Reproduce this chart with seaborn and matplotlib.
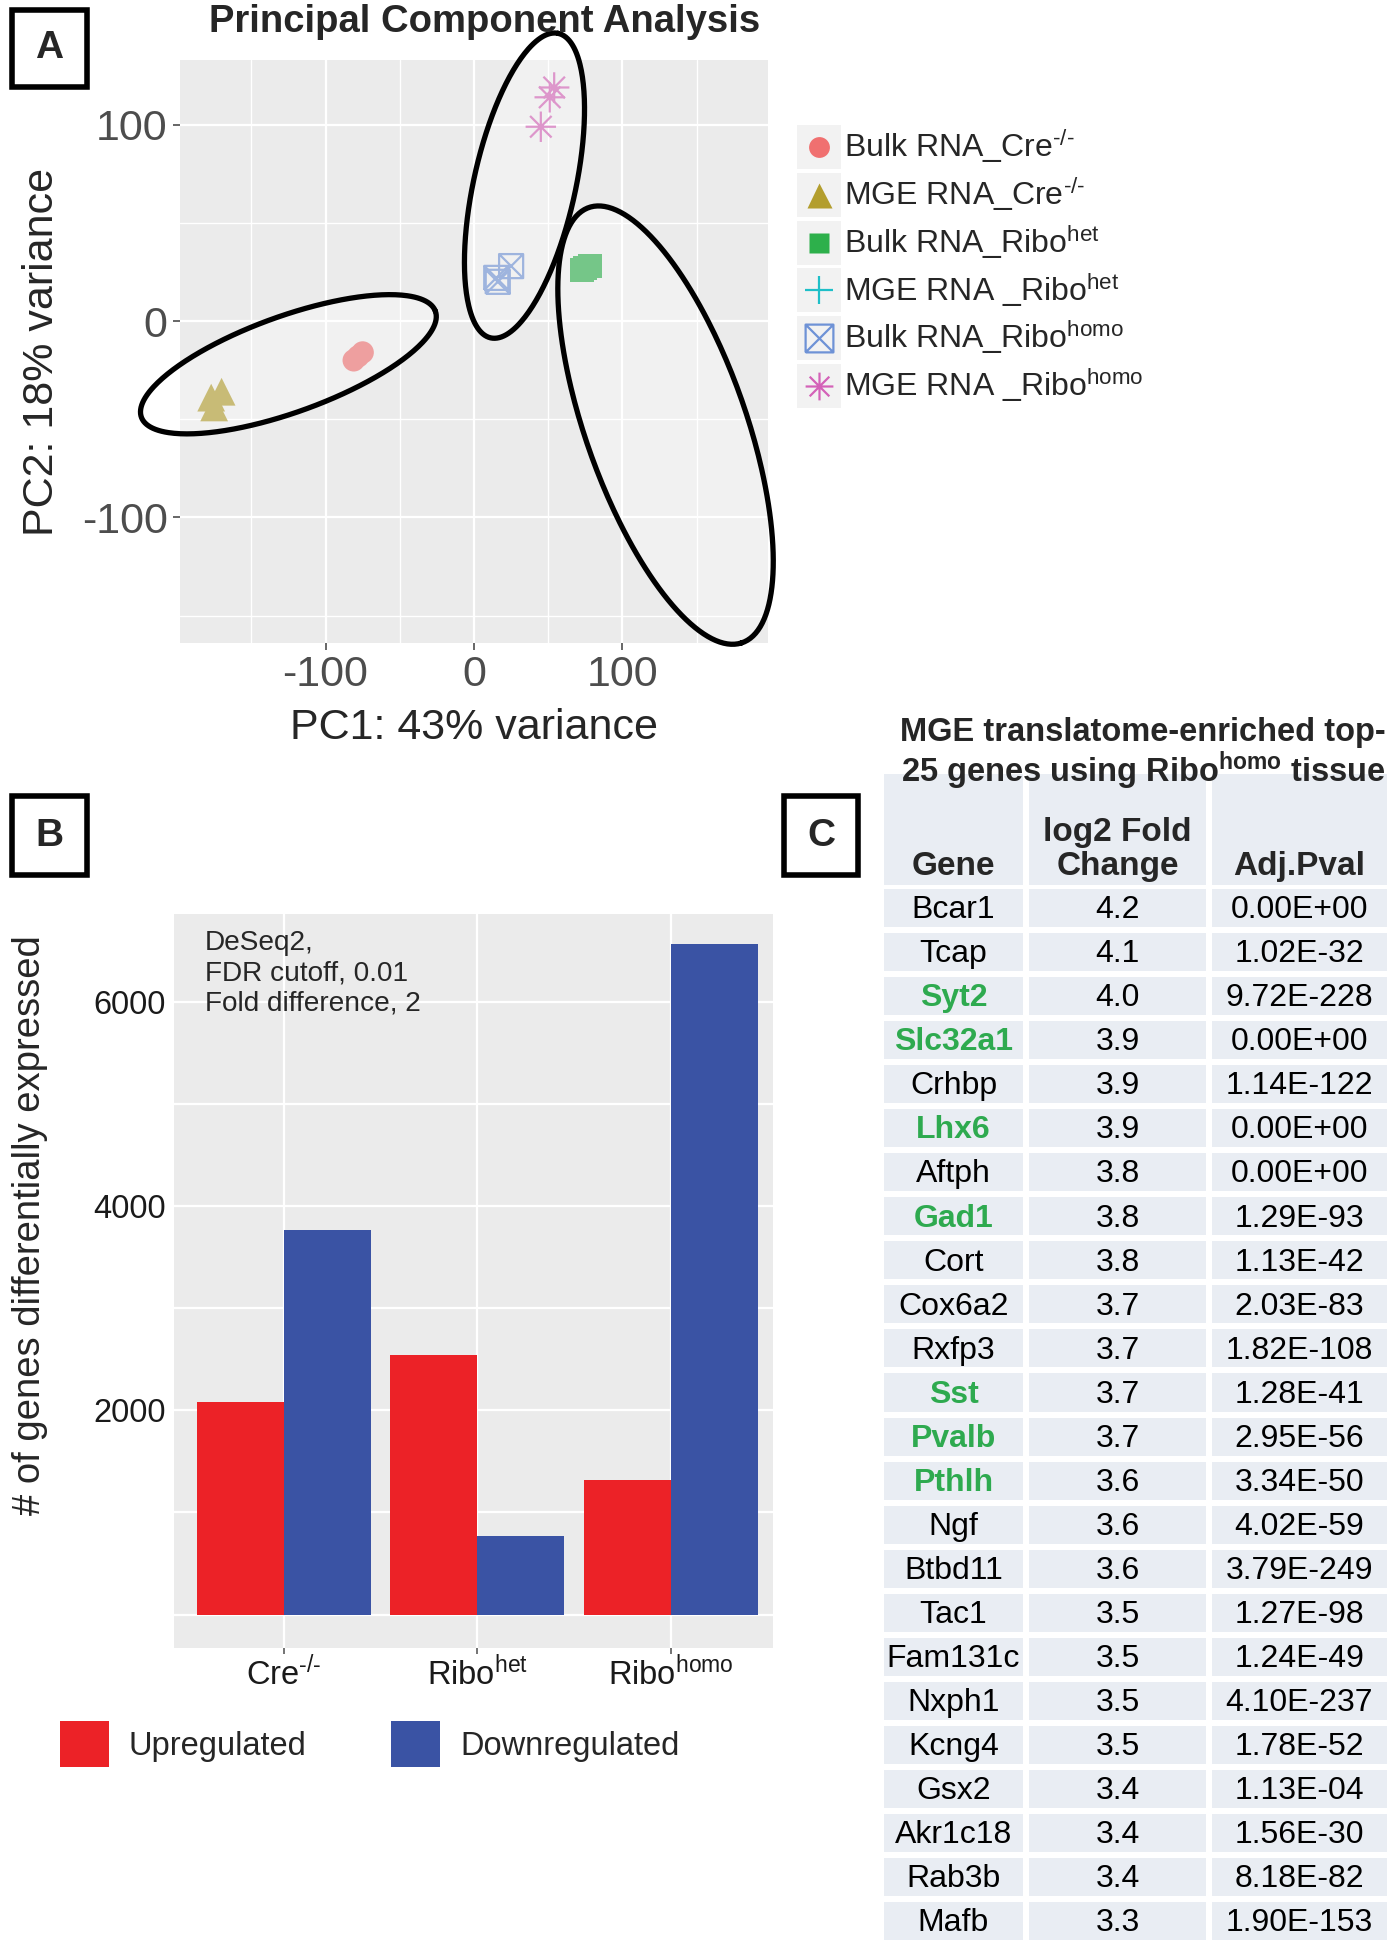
import numpy as np
import pandas as pd
import matplotlib
matplotlib.use("Agg")
import matplotlib.pyplot as plt
import seaborn as sns
from matplotlib import font_manager as fm
from matplotlib.path import Path
from matplotlib.lines import Line2D
from matplotlib.patches import Rectangle, Patch
from matplotlib.legend_handler import HandlerBase
from matplotlib.ticker import FixedLocator, MultipleLocator
from matplotlib.colors import ListedColormap, to_rgb

# ---------------- data ----------------
# panel A: PCA, three replicates per group
pca_group = (["Bulk RNA_Cre"] * 3 + ["MGE RNA_Cre"] * 3 + ["Bulk RNA_Ribo het"] * 3
             + ["MGE RNA_Ribo het"] * 3 + ["Bulk RNA_Ribo homo"] * 3 + ["MGE RNA_Ribo homo"] * 3)
pc1 = [-78, -81, -75, -177, -170, -175, 75, 78, 73, 157, 175, 180, 15, 25, 16, 45, 51, 54]
pc2 = [-18, -20, -16, -39, -36, -44, 27, 28, 26, -105, -127, -151, 22, 28, 20, 99, 114, 119]
group_order = ["Bulk RNA_Cre", "MGE RNA_Cre", "Bulk RNA_Ribo het",
               "MGE RNA_Ribo het", "Bulk RNA_Ribo homo", "MGE RNA_Ribo homo"]
group_labels = [r"Bulk RNA_Cre$^{\text{-/-}}$", r"MGE RNA_Cre$^{\text{-/-}}$",
                r"Bulk RNA_Ribo$^{het}$", r"MGE RNA _Ribo$^{het}$",
                r"Bulk RNA_Ribo$^{homo}$", r"MGE RNA _Ribo$^{homo}$"]

# cluster ellipses (centre, two semi-axis vectors) in PC units
ell_center = [(-125, -22), (34, 69), (129, -53)]
ell_u = [(99, 27), (22.5, 77.6), (51, -111)]
ell_v = [(11, -23), (33.6, -5), (51.6, 12.1)]

# panel B: DE gene counts
conditions = ["Cre", "Ribo het", "Ribo homo"]
cond_labels = [r"Cre$^{\text{-/-}}$", r"Ribo$^{het}$", r"Ribo$^{homo}$"]
upregulated = [2085, 2545, 1320]
downregulated = [3770, 765, 6570]

# panel C: top genes table
genes = ["Bcar1", "Tcap", "Syt2", "Slc32a1", "Crhbp", "Lhx6", "Aftph", "Gad1", "Cort",
         "Cox6a2", "Rxfp3", "Sst", "Pvalb", "Pthlh", "Ngf", "Btbd11", "Tac1", "Fam131c",
         "Nxph1", "Kcng4", "Gsx2", "Akr1c18", "Rab3b", "Mafb"]
log2fc = ["4.2", "4.1", "4.0", "3.9", "3.9", "3.9", "3.8", "3.8", "3.8", "3.7", "3.7", "3.7",
          "3.7", "3.6", "3.6", "3.6", "3.5", "3.5", "3.5", "3.5", "3.4", "3.4", "3.4", "3.3"]
adj_pval = ["0.00E+00", "1.02E-32", "9.72E-228", "0.00E+00", "1.14E-122", "0.00E+00",
            "0.00E+00", "1.29E-93", "1.13E-42", "2.03E-83", "1.82E-108", "1.28E-41",
            "2.95E-56", "3.34E-50", "4.02E-59", "3.79E-249", "1.27E-98", "1.24E-49",
            "4.10E-237", "1.78E-52", "1.13E-04", "1.56E-30", "8.18E-82", "1.90E-153"]
highlight = ["Syt2", "Slc32a1", "Lhx6", "Gad1", "Sst", "Pvalb", "Pthlh"]

# ---------------- style ----------------
sns.set_theme(style="darkgrid", rc={"axes.facecolor": "#EBEBEB", "grid.color": "white"})
plt.rcParams["font.family"] = ["Liberation Sans", "DejaVu Sans"]
plt.rcParams["mathtext.fontset"] = "custom"
plt.rcParams["mathtext.rm"] = "Liberation Sans"
plt.rcParams["mathtext.it"] = "Liberation Sans:italic"
plt.rcParams["mathtext.bf"] = "Liberation Sans:bold"
plt.rcParams["mathtext.default"] = "regular"
plt.rcParams["axes.unicode_minus"] = False

installed = {f.name for f in fm.fontManager.ttflist}
has_narrow = "Liberation Sans Narrow" in installed
NARROW = ["Liberation Sans Narrow", "Liberation Sans"] if has_narrow else ["Liberation Sans"]
nscale = 1.0 if has_narrow else 0.84

W, H = 1397, 1950
fig = plt.figure(figsize=(W / 100, H / 100), dpi=100)


def rect(l, t, r, b):
    return [l / W, 1 - b / H, (r - l) / W, (b - t) / H]


def panel_box(l, t, r, b, letter):
    fig.add_artist(Rectangle((l / W, 1 - b / H), (r - l) / W, (b - t) / H,
                             transform=fig.transFigure, fill=False, lw=4, ec="black"))
    fig.text((l + r) / 2 / W, 1 - (t + b) / 2 / H, letter, ha="center", va="center",
             fontsize=28, fontweight="bold")


# ---------------- panel A ----------------
axa = fig.add_axes(rect(180, 60, 768, 643))
pca = pd.DataFrame({"PC1": pc1, "PC2": pc2, "group": pca_group})

box_x = Path([(-1, -1), (1, -1), (1, 1), (-1, 1), (-1, -1), (-1, -1), (1, 1), (-1, 1), (1, -1)],
             [Path.MOVETO, Path.LINETO, Path.LINETO, Path.LINETO, Path.LINETO,
              Path.MOVETO, Path.LINETO, Path.MOVETO, Path.LINETO])
d = 0.7071
asterisk = Path([(0, -1), (0, 1), (-1, 0), (1, 0), (-d, -d), (d, d), (-d, d), (d, -d)],
                [Path.MOVETO, Path.LINETO] * 4)

base_cols = ["#F07070", "#B39E2E", "#2DB04B", "#1EBFC8", "#6E92D6", "#D462B8"]
markers = ["o", "^", "s", "+", box_x, asterisk]
sizes = [260, 400, 300, 420, 300, 480]
filled = [True, True, True, False, False, False]
bg = np.array(to_rgb("#EBEBEB"))


def pale(c, k=0.62):
    return tuple(k * np.array(to_rgb(c)) + (1 - k) * bg)


# ellipse fills under the points
t = np.linspace(0, 2 * np.pi, 300)
for c, u, v in zip(ell_center, ell_u, ell_v):
    ex = c[0] + u[0] * np.cos(t) + v[0] * np.sin(t)
    ey = c[1] + u[1] * np.cos(t) + v[1] * np.sin(t)
    axa.fill(ex, ey, color="white", alpha=0.3, lw=0, zorder=1.2, clip_on=False)
    axa.plot(ex, ey, color="black", lw=3.8, zorder=5, clip_on=False)

for g, col, mk, s, f in zip(group_order, base_cols, markers, sizes, filled):
    sub = pca[pca["group"] == g]
    pc = pale(col)
    if f:
        sns.scatterplot(data=sub, x="PC1", y="PC2", ax=axa, marker=mk, s=s, color=pc,
                        edgecolor="none", linewidth=0, zorder=3, legend=False)
    else:
        sns.scatterplot(data=sub, x="PC1", y="PC2", ax=axa, marker=mk, s=s, color=pc,
                        facecolor="none", edgecolor=pc, linewidth=1.6, zorder=3, legend=False)

axa.set_xlim(-198, 198)
axa.set_ylim(-164, 133)
axa.xaxis.set_major_locator(FixedLocator([-100, 0, 100]))
axa.yaxis.set_major_locator(FixedLocator([-100, 0, 100]))
axa.xaxis.set_minor_locator(MultipleLocator(50))
axa.yaxis.set_minor_locator(MultipleLocator(50))
axa.grid(which="major", color="white", lw=1.6)
axa.grid(which="minor", color="white", lw=1.0)
axa.tick_params(which="major", bottom=True, left=True, length=5, width=1.2, color="#4D4D4D",
                labelsize=31, labelcolor="#4D4D4D", pad=4)
axa.tick_params(which="minor", bottom=False, left=False)
for sp in axa.spines.values():
    sp.set_visible(False)
axa.set_xlabel("PC1: 43% variance", fontsize=31)
axa.set_ylabel("PC2: 18% variance", fontsize=31)
axa.xaxis.set_label_coords(0.5, -0.112)
axa.yaxis.set_label_coords(-0.2, 0.5)
fig.text(485 / W, 1 - 22 / H, "Principal Component Analysis", ha="center", va="center",
         fontsize=27.5, fontweight="bold")


class KeyBox(HandlerBase):
    def create_artists(self, legend, orig, xd, yd, w, h, fs, trans):
        r = Rectangle((-xd, -yd), w, h, fc="#F2F2F2", ec="none", transform=trans)
        m = Line2D([w / 2 - xd], [h / 2 - yd], ls="none", marker=orig.get_marker(),
                   ms=orig.get_markersize(), mfc=orig.get_markerfacecolor(),
                   mec=orig.get_markeredgecolor(), mew=orig.get_markeredgewidth(),
                   transform=trans)
        return [r, m]


leg_handles = []
for col, mk, f in zip(base_cols, markers, filled):
    ms = 15 if mk in ("o", "s") else 18
    if f:
        leg_handles.append(Line2D([], [], ls="none", marker=mk, ms=ms, mfc=col, mec="none"))
    else:
        leg_handles.append(Line2D([], [], ls="none", marker=mk, ms=ms + 2, mfc="none", mec=col,
                                  mew=1.6))
fig.legend(leg_handles, group_labels, loc="upper left", bbox_to_anchor=(797 / W, 1 - 125 / H),
           frameon=False, fontsize=23, handlelength=1.38, handleheight=1.74, handletextpad=0.08,
           labelspacing=0.12, borderpad=0, borderaxespad=0,
           handler_map={Line2D: KeyBox()})

panel_box(12, 10, 87, 87, "A")

# ---------------- panel B ----------------
axb = fig.add_axes(rect(174, 914, 773, 1648))
de = pd.DataFrame({
    "condition": conditions * 2,
    "count": upregulated + downregulated,
    "direction": ["Upregulated"] * 3 + ["Downregulated"] * 3,
})
pal = {"Upregulated": "#EC2227", "Downregulated": "#3A53A4"}
sns.barplot(data=de, x="condition", y="count", hue="direction", palette=pal, width=0.9,
            saturation=1, errorbar=None, legend=False, ax=axb, zorder=2)
for p in axb.patches:
    p.set_linewidth(0)
axb.set_xlim(-0.57, 2.53)
axb.set_ylim(-328, 6860)
axb.yaxis.set_major_locator(FixedLocator([2000, 4000, 6000]))
axb.yaxis.set_minor_locator(FixedLocator([0, 1000, 3000, 5000]))
axb.set_xticks(range(3))
axb.set_xticklabels(cond_labels, family=NARROW)
for lab in axb.get_yticklabels():
    lab.set_family(NARROW)
axb.grid(which="major", color="white", lw=1.6)
axb.yaxis.grid(which="minor", color="white", lw=1.6)
axb.xaxis.grid(True, which="major", color="white", lw=1.6)
axb.tick_params(which="major", bottom=True, left=False, length=4, width=1.1, color="#4D4D4D",
                labelsize=28 * nscale, labelcolor="#1A1A1A", pad=2)
axb.tick_params(which="minor", bottom=False, left=False)
for sp in axb.spines.values():
    sp.set_visible(False)
axb.set_xlabel("")
axb.set_ylabel("# of genes differentially expressed", fontsize=27.5)
axb.yaxis.set_label_coords(-0.21, 0.576)
axb.text(0.052, 0.978, "DeSeq2,\nFDR cutoff, 0.01\nFold difference, 2", transform=axb.transAxes,
         ha="left", va="top", fontsize=24 * nscale, family=NARROW, linespacing=1.22, zorder=5)
fig.legend([Patch(fc=pal["Upregulated"], ec="none"), Patch(fc=pal["Downregulated"], ec="none")],
           ["Upregulated", "Downregulated"], loc="center left",
           bbox_to_anchor=(60 / W, 1 - 1744 / H), ncol=2, frameon=False,
           prop={"family": NARROW, "size": 28 * nscale}, handlelength=1.5, handleheight=1.75,
           handletextpad=0.6, columnspacing=2.6, borderpad=0, borderaxespad=0)

panel_box(12, 796, 87, 875, "B")

# ---------------- panel C ----------------
fig.text(1143 / W, 1 - 733 / H, "MGE translatome-enriched top-", ha="center", va="center",
         fontsize=23.5, fontweight="bold", zorder=10)
fig.text(1143 / W, 1 - 771 / H, r"25 genes using Ribo$^{\mathbf{homo}}$ tissue", ha="center",
         va="center", fontsize=23.5, fontweight="bold", zorder=10)

col_edges = [881, 1026, 1209, 1390]
headers = ["Gene", "log2 Fold\nChange", "Adj.Pval"]
columns = [genes, log2fc, adj_pval]
cell_cmap = ListedColormap(["#E9EDF3"])
for j in range(3):
    l, r = col_edges[j], col_edges[j + 1]
    axh = fig.add_axes(rect(l, 771, r, 888))
    sns.heatmap(np.zeros((1, 1)), ax=axh, cmap=cell_cmap, cbar=False, xticklabels=False,
                yticklabels=False, linewidths=3, linecolor="white")
    axh.text(0.5, 0.95, headers[j], ha="center", va="bottom", fontsize=24, fontweight="bold",
             linespacing=1.15)
    axt = fig.add_axes(rect(l, 886, r, 1943))
    sns.heatmap(np.zeros((len(genes), 1)), ax=axt, cmap=cell_cmap, cbar=False,
                xticklabels=False, yticklabels=False, linewidths=3, linecolor="white")
    for i, val in enumerate(columns[j]):
        if j == 0 and val in highlight:
            axt.text(0.5, i + 0.55, val, ha="center", va="center", fontsize=23,
                     fontweight="bold", color="#2EAA4F")
        else:
            axt.text(0.5, i + 0.55, val, ha="center", va="center", fontsize=23, color="black")

panel_box(784, 796, 858, 875, "C")

fig.savefig("out.png", dpi=100)
